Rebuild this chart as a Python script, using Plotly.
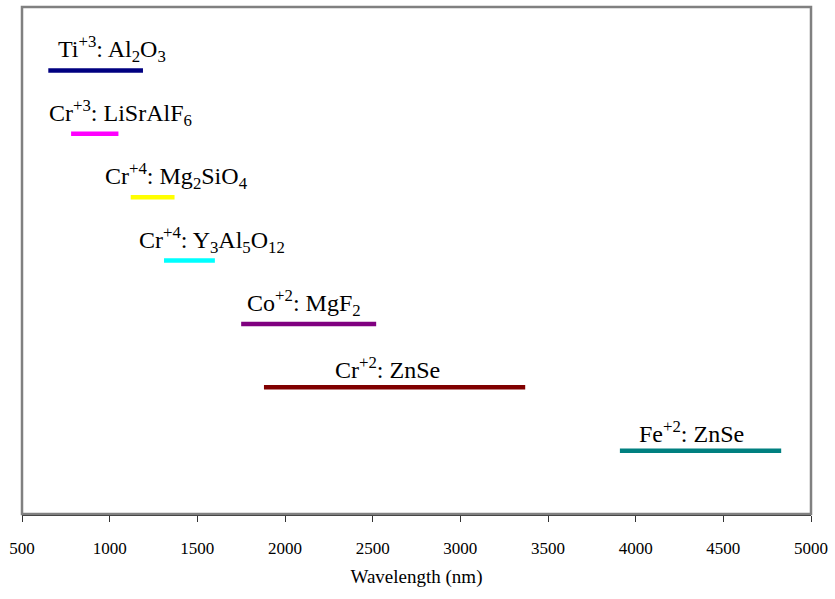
import plotly.graph_objects as go

# Laser gain media and their tuning ranges (nm)
labels = [
    "Ti<sup>+3</sup>: Al<sub>2</sub>O<sub>3</sub>",
    "Cr<sup>+3</sup>: LiSrAlF<sub>6</sub>",
    "Cr<sup>+4</sup>: Mg<sub>2</sub>SiO<sub>4</sub>",
    "Cr<sup>+4</sup>: Y<sub>3</sub>Al<sub>5</sub>O<sub>12</sub>",
    "Co<sup>+2</sup>: MgF<sub>2</sub>",
    "Cr<sup>+2</sup>: ZnSe",
    "Fe<sup>+2</sup>: ZnSe",
]
range_start = [650, 780, 1120, 1310, 1750, 1880, 3910]
range_end = [1190, 1050, 1370, 1600, 2520, 3370, 4830]
label_x = [1016, 1062, 1380, 1584, 2106, 2583, 4320]
rows = [7, 6, 5, 4, 3, 2, 1]
colors = ["#000080", "#FF00FF", "#FFFF00", "#00FFFF", "#800080", "#800000", "#008080"]

x_ticks = [500, 1000, 1500, 2000, 2500, 3000, 3500, 4000, 4500, 5000]

serif = "Liberation Serif"

fig = go.Figure()
for x0, x1, r, c in zip(range_start, range_end, rows, colors):
    fig.add_trace(go.Scatter(
        x=[x0, x1], y=[r, r], mode="lines",
        line=dict(color=c, width=4.5), showlegend=False, hoverinfo="skip",
    ))

for lab, lx, r in zip(labels, label_x, rows):
    fig.add_annotation(
        x=lx, y=r, text=lab, showarrow=False, yanchor="bottom", yshift=2,
        font=dict(family=serif, size=24, color="black"),
    )

# gray frame around the plotting area
fig.add_shape(type="rect", xref="paper", yref="paper", x0=0, y0=0, x1=1, y1=1,
              line=dict(color="#808080", width=2.5))

fig.update_layout(
    width=835, height=599,
    margin=dict(l=22, r=20, t=7, b=85),
    paper_bgcolor="white", plot_bgcolor="white",
    font=dict(family=serif, color="black"),
    xaxis=dict(
        range=[500, 5000], tickvals=x_ticks, ticktext=[str(v) for v in x_ticks],
        showgrid=False, zeroline=False, showline=True, linecolor="#333333", linewidth=2,
        ticks="outside", ticklen=6, tickcolor="#333333", tickwidth=1,
        ticklabelstandoff=12,
        tickfont=dict(family=serif, size=17, color="black"),
        title=dict(text="Wavelength (nm)",
                   font=dict(family=serif, size=19, color="black"),
                   standoff=12),
    ),
    yaxis=dict(range=[0, 8], showgrid=False, zeroline=False, showticklabels=False,
               showline=False, ticks=""),
)

fig.write_html("out.html")
